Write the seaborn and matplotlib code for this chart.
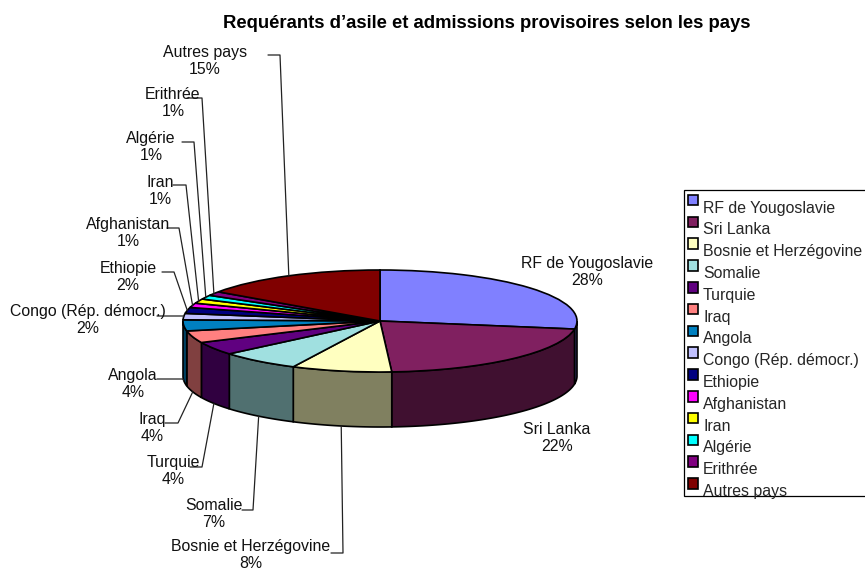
import numpy as np
import matplotlib
matplotlib.use("Agg")
import matplotlib.pyplot as plt
from matplotlib.patches import Rectangle
import seaborn as sns

# ---- data ----
countries = ["RF de Yougoslavie", "Sri Lanka", "Bosnie et Herzégovine", "Somalie", "Turquie",
             "Iraq", "Angola", "Congo (Rép. démocr.)", "Ethiopie", "Afghanistan", "Iran",
             "Algérie", "Erithrée", "Autres pays"]
shares = [27.5, 21.5, 8.2, 6.6, 4.2, 3.8, 3.5, 2.0, 1.9, 1.4, 1.4, 1.3, 1.3, 15.3]
percent_labels = ["28%", "22%", "8%", "7%", "4%", "4%", "4%", "2%", "2%", "1%", "1%", "1%", "1%", "15%"]
title_text = "Requérants d’asile et admissions provisoires selon les pays"
hex_colors = ["#8080FF", "#802060", "#FFFFC0", "#A0E0E0", "#600080", "#FF8080", "#0080C0",
              "#C0C0FF", "#000080", "#FF00FF", "#FFFF00", "#00FFFF", "#800080", "#800000"]

# ---- layout (pixels of the 865x571 image) ----
W, H = 865, 571
CX, CY, RX, RY, DEPTH = 380, 321, 197, 51, 55
label_xy = [(587, 272), (557, 438), (251, 555), (214, 514), (173, 471), (152, 428), (133, 384),
            (88, 320), (128, 277), (128, 233), (160, 191), (151, 147), (173, 103), (205, 61)]
leader_paths = [None, None,
                [(331, 553), (343, 553)], [(242, 510), (253, 510)], [(190, 467), (202, 467)],
                [(165, 423), (178, 423)], [(157, 379), (183, 379)], [(157, 316), (183, 316)],
                [(162, 272), (174, 272)], [(167, 228), (179, 228)], [(173, 185), (186, 185)],
                [(182, 142), (194, 142)], [(187, 98), (202, 98)], [(268, 55), (280, 55)]]
FS = 11.4

sns.set_theme(style="white", rc={"figure.facecolor": "white", "axes.facecolor": "white"})
plt.rcParams["font.family"] = ["Liberation Sans", "DejaVu Sans"]
palette = sns.color_palette(hex_colors)

fig = plt.figure(figsize=(W / 100, H / 100), dpi=100)
ax = fig.add_axes([0, 0, 1, 1])


def px(x, y):
    return (x - CX) / RX, (CY - y) / RY


depth = DEPTH / RY
vals = np.asarray(shares, float)
edges = np.concatenate([[0], np.cumsum(vals) / vals.sum()]) * 2 * np.pi  # clockwise from top

# side walls of the visible front half, from the same values
for a0, a1, col in zip(edges[:-1], edges[1:], palette):
    lo, hi = max(a0, np.pi / 2), min(a1, 3 * np.pi / 2)
    if hi <= lo:
        continue
    t = np.linspace(lo, hi, 60)
    xs = np.concatenate([np.sin(t), np.sin(t[::-1])])
    ys = np.concatenate([np.cos(t), np.cos(t[::-1]) - depth])
    ax.fill(xs, ys, facecolor=tuple(c * 0.5 for c in col), edgecolor="black", linewidth=1.2, zorder=1)

wedges, _ = ax.pie(vals, colors=palette, startangle=90, counterclock=False, radius=1,
                   wedgeprops=dict(edgecolor="black", linewidth=1.2, zorder=2))
ax.set_aspect("auto")
ax.set_xlim(px(0, 0)[0], px(W, 0)[0])
ax.set_ylim(px(0, H)[1], px(0, 0)[1])
ax.axis("off")

# leader lines and data labels
mids = (edges[:-1] + edges[1:]) / 2
for name, pct, xy, path, m in zip(countries, percent_labels, label_xy, leader_paths, mids):
    tx, ty = px(*xy)
    ax.text(tx, ty, f"{name}\n{pct}", ha="center", va="center", fontsize=FS, color="#111111",
            linespacing=1.2, zorder=4)
    if path is None:
        continue
    ex, ey = np.sin(m), np.cos(m)
    if ey < 0:
        ey -= depth
    pts = [px(*p) for p in path] + [(ex, ey)]
    ax.plot([p[0] for p in pts], [p[1] for p in pts], color="#222222", lw=0.9, zorder=3)

tx, ty = px(487, 24)
ax.text(tx, ty, title_text, ha="center", va="center", fontsize=13.36, fontweight="bold", color="black")

# legend box (runs past the right edge of the image, as in the reference)
bx0, by0 = px(684, 496)
bx1, by1 = px(875, 190)
ax.add_patch(Rectangle((bx0, by0), bx1 - bx0, by1 - by0, facecolor="white", edgecolor="black",
                       linewidth=0.9, zorder=5))
leg = ax.legend(wedges, countries, loc="upper left", bbox_to_anchor=(688 / W, 1 - 200.5 / H),
                bbox_transform=fig.transFigure, fontsize=FS, frameon=False,
                borderaxespad=0, borderpad=0, labelspacing=0.43,
                handlelength=0.65, handleheight=0.65, handletextpad=0.3)
leg.set_zorder(6)
for h in leg.legend_handles:
    h.set_y(h.get_y() + 5)
    h.set_linewidth(1.2)

fig.savefig("out.png", dpi=100)
